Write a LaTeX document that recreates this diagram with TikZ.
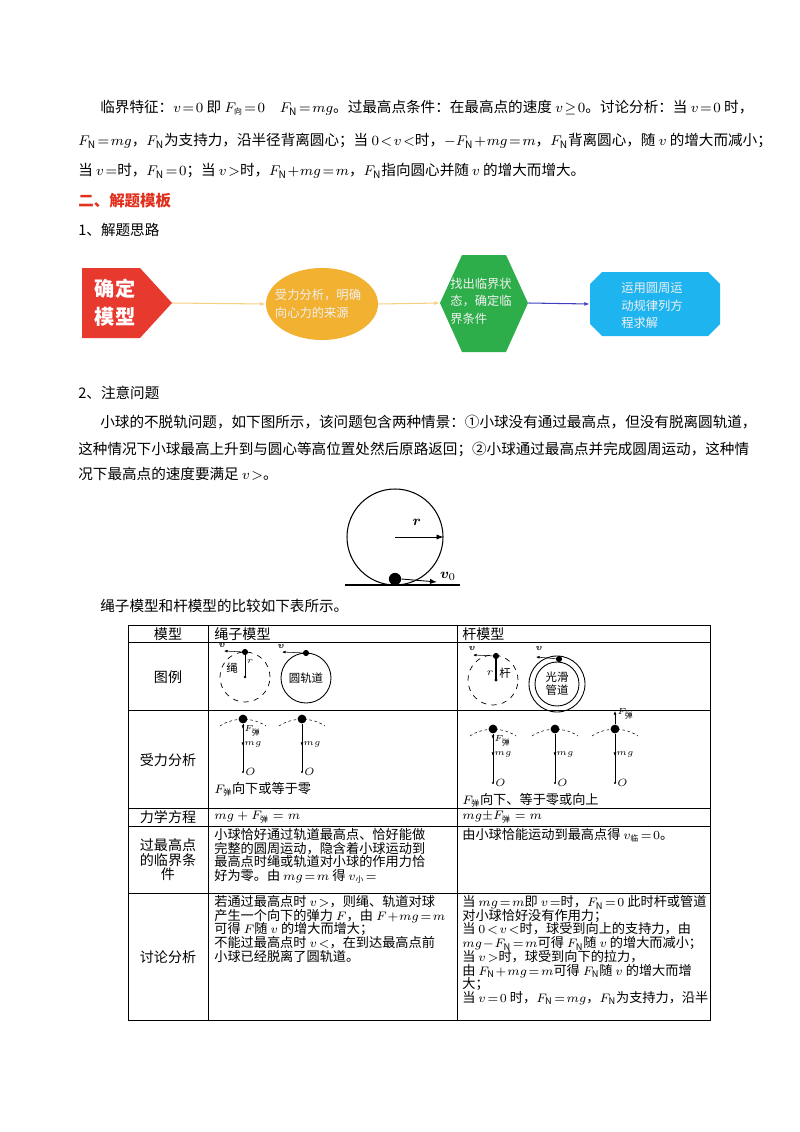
\documentclass[tikz,border=0pt]{standalone}
\usepackage{amsmath,bm}
\usepackage{fontspec}
\setmainfont{Noto Sans CJK SC}
\usetikzlibrary{shapes.geometric,arrows.meta,calc}
\newcommand{\sbx}[1]{\mbox{\fontsize{4.5}{5}\selectfont #1}}
\definecolor{cred}{HTML}{E8392F}
\definecolor{corange}{HTML}{F2B130}
\definecolor{cgreen}{HTML}{2EAE4A}
\definecolor{cblue}{HTML}{1EB4F0}
\definecolor{headred}{HTML}{E0301E}
\tikzset{
 body/.style={anchor=west,inner sep=0pt,font=\fontsize{8.3}{14.5}\selectfont,align=left},
 cell/.style={anchor=north west,inner sep=0pt,font=\fontsize{7.5}{7.8}\selectfont,align=left},
 small/.style={inner sep=0pt,font=\fontsize{5.5}{6}\selectfont},
 ball/.style={circle,fill=black,inner sep=0pt,minimum size=5pt},
 farrow/.style={-{Latex[length=2pt,width=1.6pt]},line width=0.3pt},
 flowarr/.style={-{Latex[length=3pt]},line width=0.6pt},
 tline/.style={line width=0.5pt},
 ftext/.style={inner sep=0pt,align=left,font=\fontsize{7}{10}\selectfont,text=white!88!gray},
 fbox/.style={inner sep=0pt,draw=none}
}
\begin{document}
\begin{tikzpicture}[x=0.02cm,y=-0.02cm]
\useasboundingbox (0,0) rectangle (800,1132);
% paragraph 1
\node[body] (p1) at (100,108) {临界特征：$v\!=\!0$ 即 $F_{\sbx{向}}\!=\!0$\quad $F_{\rm N}\!=\!mg$。过最高点条件：在最高点的速度 $v\!\ge\!0$。讨论分析：当 $v\!=\!0$ 时，};
\node[body] (p2) at (78,141) {$F_{\rm N}\!=\!mg$，$F_{\rm N}$为支持力，沿半径背离圆心；当 $0\!<\!v\!<$时，$-F_{\rm N}\!+\!mg\!=\!m$，$F_{\rm N}$背离圆心，随 $v$ 的增大而减小；};
\node[body] (p3) at (78,171) {当 $v\!=$时，$F_{\rm N}\!=\!0$；当 $v\!>$时，$F_{\rm N}\!+\!mg\!=\!m$，$F_{\rm N}$指向圆心并随 $v$ 的增大而增大。};
\node[body,font=\fontsize{8.8}{10}\selectfont\bfseries,text=headred] (h2) at (78,201) {二、解题模板};
\node[body] (h3) at (78,230) {1、解题思路};
% flowchart shapes
\fill[cred] (82,268) -- (140,268) -- (172,303) -- (140,338) -- (82,338) -- cycle;
\fill[cgreen] (440,303) -- (462,255) -- (506,255) -- (528,303) -- (506,352) -- (462,352) -- cycle;
\fill[cblue] (602,272) -- (708,272) -- (720,284) -- (720,324) -- (708,336) -- (602,336) -- (590,324) -- (590,284) -- cycle;
\node[fbox,minimum width=90*0.02cm,minimum height=70*0.02cm] (f1) at (127,303) {};
\node[inner sep=0pt,align=center,font=\fontsize{11.5}{16}\selectfont\bfseries,text=white] (f1t) at (115,303) {确定\\模型};
\node[ellipse,fill=corange,minimum width=112*0.02cm,minimum height=72*0.02cm,inner sep=0pt] (f2) at (322,304) {};
\node[ftext] (f2t) at (318,304) {受力分析，明确\\向心力的来源};
\node[fbox,minimum width=88*0.02cm,minimum height=97*0.02cm] (f3) at (484,303) {};
\node[ftext] (f3t) at (481,301) {找出临界状\\态，确定临\\界条件};
\node[fbox,minimum width=130*0.02cm,minimum height=64*0.02cm] (f4) at (655,304) {};
\node[ftext] (f4t) at (652,306) {运用圆周运\\动规律列方\\程求解};
\draw[flowarr,draw=corange!60] (f1.east) -- (f2.west);
\draw[flowarr,draw=corange!60] (f2.east) -- (f3.west);
\draw[flowarr,draw=blue!50!gray] (f3.east) -- (f4.west);
% section 2
\node[body] (h4) at (78,393) {2、注意问题};
\node[body] (q1) at (100,422) {小球的不脱轨问题，如下图所示，该问题包含两种情景：①小球没有通过最高点，但没有脱离圆轨道，};
\node[body] (q2) at (78,449) {这种情况下小球最高上升到与圆心等高位置处然后原路返回；②小球通过最高点并完成圆周运动，这种情};
\node[body] (q3) at (78,474) {况下最高点的速度要满足 $v\!>$。};
% loop figure
\node[circle,draw,line width=0.6pt,minimum size=96*0.02cm,inner sep=0pt] (loop) at (395,537) {};
\coordinate (g1) at (345,585); \coordinate (g2) at (460,585);
\draw[line width=0.8pt] (g1) -- (g2);
\node[ball,minimum size=7pt] (lb) at (395,579) {};
\draw[-{Latex[length=4pt]},line width=0.5pt] (loop.center) -- (loop.east) node[pos=0.45,above=3pt,font=\fontsize{8}{8}\selectfont] (rl) {$\bm{r}$};
\coordinate (v0e) at (437,582);
\draw[-{Latex[length=4pt]},line width=0.5pt] (lb.east) -- (v0e);
\node[font=\fontsize{8}{8}\selectfont,anchor=west,inner sep=1pt] (v0l) at (438,576) {$\bm{v}_0$};
\node[body] (q4) at (100,606) {绳子模型和杆模型的比较如下表所示。};
% table
\draw[tline] (128,625) rectangle (710,1020);
\foreach \yy in {642,710,808,826,893} \draw[tline] (128,\yy) -- (710,\yy);
\draw[tline] (208,625) -- (208,1020);
\draw[tline] (457,625) -- (457,1020);
\tikzset{hd/.style={inner sep=0pt,font=\fontsize{8}{8.2}\selectfont,align=center}}
\node[hd] (t0) at (168,634) {模型};
\node[hd,anchor=west] (t1) at (214,634) {绳子模型};
\node[hd,anchor=west] (t2) at (462,634) {杆模型};
\node[hd] (t3) at (168,677) {图例};
\node[hd] (t4) at (168,760) {受力分析};
\node[hd] (t5) at (168,817) {力学方程};
\node[hd] (t6) at (168,860) {过最高点\\的临界条\\件};
\node[hd] (t7) at (168,957) {讨论分析};
% legend: rope
\node[circle,draw,dashed,line width=0.4pt,minimum size=50*0.02cm,inner sep=0pt] (rc) at (245,677) {};
\node[ball,minimum size=3.5pt] (rb) at (245,652) {};
\draw[line width=0.4pt] (rb) -- (rc.center);
\fill (rc.center) circle (0.8pt);
\coordinate (rv) at (224,651);
\draw[farrow] (rb) -- (rv);
\node[small,font=\fontsize{5}{5}\selectfont] (rvl) at (222,646) {$\bm{v}$};
\node[small,font=\fontsize{6.5}{7}\selectfont] (rsh) at (232,668) {绳};
\node[small,font=\fontsize{5}{5}\selectfont] (rr) at (250,662) {$r$};
\node[circle,draw,line width=0.5pt,minimum size=50*0.02cm,inner sep=0pt,font=\fontsize{6.5}{7}\selectfont] (tc) at (306,678) {圆轨道};
\node[ball,minimum size=3.5pt] (tb) at (306,653) {};
\coordinate (tv) at (282,652);
\draw[farrow] (tb) -- (tv);
\node[small,font=\fontsize{5}{5}\selectfont] (tvl) at (281,647) {$\bm{v}$};
% legend: rod
\node[circle,draw,dashed,line width=0.4pt,minimum size=50*0.02cm,inner sep=0pt] (dc) at (493,680) {};
\node[ball,minimum size=3.5pt] (db) at (496,656) {};
\coordinate (dcc) at (496,680);
\draw[line width=0.8pt] (db) -- (dcc);
\fill (dcc) circle (0.9pt);
\coordinate (dv) at (473,655);
\draw[farrow] (db) -- (dv);
\node[small,font=\fontsize{5}{5}\selectfont] (dvl) at (472,649) {$\bm{v}$};
\node[small,font=\fontsize{6}{6}\selectfont] (drl) at (490,673) {$r$};
\node[small,font=\fontsize{6.5}{7}\selectfont] (dgl) at (505,673) {杆};
\node[circle,draw,line width=0.5pt,minimum size=56*0.02cm,inner sep=0pt] (po) at (557,684) {};
\node[circle,draw,line width=0.5pt,minimum size=44*0.02cm,inner sep=0pt,align=center,font=\fontsize{6.5}{7.5}\selectfont] (pin) at (557,684) {光滑\\管道};
\node[ball,minimum size=3.5pt] (pb) at (559,659) {};
\coordinate (pv) at (536,657);
\draw[farrow] (pb) -- (pv);
\node[small,font=\fontsize{5}{5}\selectfont] (pvl) at (539,649) {$\bm{v}$};
% force analysis
\foreach \n/\xx/\yb/\ye in {a/243/719/772,b/302/719/772,c/493/729/783,d/555/729/783,e/615/729/783}{
  \draw[line width=0.3pt,dash pattern=on 1.5pt off 1.5pt] (\xx-23,\yb+7) .. controls (\xx-10,\yb-2) and (\xx+10,\yb-2) .. (\xx+23,\yb+7);
  \node[ball,minimum size=5pt] (b\n) at (\xx,\yb) {};
  \coordinate (o\n) at (\xx,\ye);
  \draw[line width=0.4pt] (b\n) -- (o\n);
  \fill (o\n) circle (0.7pt);
  \node[small,anchor=west,font=\fontsize{6}{6}\selectfont] (ol\n) at (\xx+2,\ye) {$O$};
  \draw[farrow] (\xx,\yb+23) -- (\xx,\yb+27);
  \node[small,anchor=west,font=\fontsize{5}{5}\selectfont] (ml\n) at (\xx+1,\yb+25) {$mg$};
}
\foreach \n in {a,c}{
  \draw[farrow] ($(b\n)+(0,6)$) -- ++(0,4);
}
\node[small,anchor=west,font=\fontsize{5}{5}\selectfont] (fla) at (244,731) {$F_{\sbx{弹}}$};
\node[small,anchor=west,font=\fontsize{5}{5}\selectfont] (flc) at (494,741) {$F_{\sbx{弹}}$};
\coordinate (fe) at (615,711);
\draw[farrow] (be) -- (fe);
\node[small,anchor=west,font=\fontsize{5}{5}\selectfont] (fle) at (617,714) {$F_{\sbx{弹}}$};
\node[cell,anchor=west] (fa) at (214,789) {$F_{\sbx{弹}}$向下或等于零};
\node[cell,anchor=west] (fb) at (462,800) {$F_{\sbx{弹}}$向下、等于零或向上};
% equations
\node[cell,anchor=west] (e1) at (214,817) {$mg+F_{\sbx{弹}}=m$};
\node[cell,anchor=west] (e2) at (462,817) {$mg{\pm}F_{\sbx{弹}}=m$};
% critical
\node[cell] (c1) at (214,828) {小球恰好通过轨道最高点、恰好能做\\完整的圆周运动，隐含着小球运动到\\最高点时绳或轨道对小球的作用力恰\\好为零。由 $mg\!=\!m$ 得 $v_{\sbx{小}}\!=$};
\node[cell] (c2) at (462,828) {由小球恰能运动到最高点得 $v_{\sbx{临}}\!=\!0$。};
% discussion
\node[cell] (d1) at (214,895) {若通过最高点时 $v\!>$，则绳、轨道对球\\产生一个向下的弹力 $F$，由 $F\!+\!mg\!=\!m$\\可得 $F$随 $v$ 的增大而增大；\\不能过最高点时 $v\!<$，在到达最高点前\\小球已经脱离了圆轨道。};
\node[cell] (d2) at (462,895) {当 $mg\!=\!m$即 $v\!=$时，$F_{\rm N}\!=\!0$ 此时杆或管道\\对小球恰好没有作用力；\\当 $0\!<\!v\!<$时，球受到向上的支持力，由\\$mg\!-\!F_{\rm N}\!=\!m$可得 $F_{\rm N}$随 $v$ 的增大而减小；\\当 $v\!>$时，球受到向下的拉力，\\由 $F_{\rm N}\!+\!mg\!=\!m$可得 $F_{\rm N}$随 $v$ 的增大而增\\大；\\当 $v\!=\!0$ 时，$F_{\rm N}\!=\!mg$，$F_{\rm N}$为支持力，沿半};
\end{tikzpicture}
\end{document}
